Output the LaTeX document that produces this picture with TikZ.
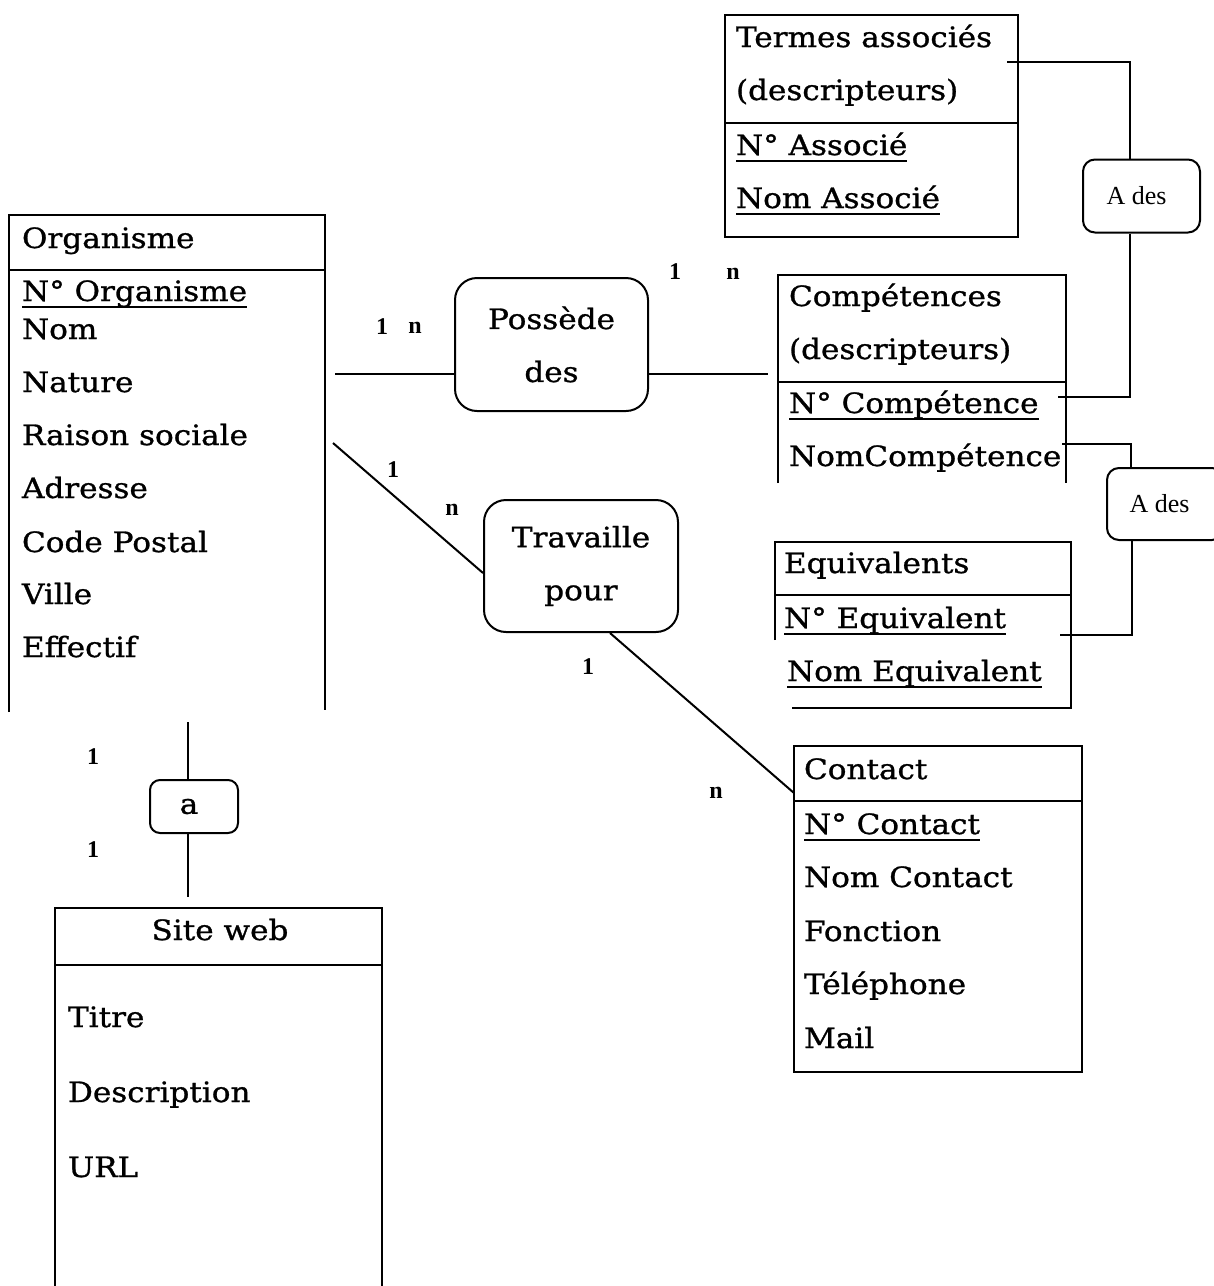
\documentclass[tikz,border=0pt]{standalone}
\usepackage{fontspec}
\setmainfont{DejaVu Serif}[FakeStretch=1.11,FakeBold=1]
\newfontfamily\timesfont{Liberation Serif}
\newcommand\myul[1]{\setbox0=\hbox{#1}\rlap{\raisebox{-7pt}{\rule{\wd0}{1.8pt}}}\box0}
\begin{document}
\begin{tikzpicture}[x=1pt,y=-1pt,line width=2pt,
  txt/.style={anchor=base west,inner sep=0pt,font=\fontsize{28}{28}\selectfont},
  ctxt/.style={anchor=base,inner sep=0pt,font=\fontsize{28}{28}\selectfont},
  card/.style={inner sep=0pt,font=\timesfont\bfseries\fontsize{24}{24}\selectfont},
  frame/.style={inner sep=0pt,outer sep=0pt},
  rel/.style={draw,rounded corners=22pt,inner sep=0pt,align=center,font=\fontsize{28}{53}\selectfont},
  srel/.style={draw,rounded corners=12pt,inner sep=0pt,align=center,font=\timesfont\fontsize{26}{26}\selectfont},
]
\useasboundingbox (0,0) rectangle (1214,1286);
\clip (0,0) rectangle (1214,1286);

% ---------- entity frames ----------
\node[frame,minimum width=316pt,minimum height=497pt] (org) at (167,463.5) {};
\node[frame,minimum width=293pt,minimum height=222pt] (termes) at (871.5,126) {};
\node[frame,minimum width=288pt,minimum height=208pt] (comp) at (922,379) {};
\node[frame,minimum width=296pt,minimum height=166pt] (equiv) at (923,625) {};
\node[frame,minimum width=288pt,minimum height=326pt] (contact) at (938,909) {};
\node[frame,minimum width=327pt,minimum height=378pt] (site) at (218.5,1097) {};

% Organisme
\draw (org.south west) -- (org.north west) -- (org.north east) -- ([yshift=2pt]org.south east);
\draw (9,270) -- (325,270);
\node[txt] (t-org) at (21,248) {Organisme};
\node[txt] (t-org1) at (21,301) {\myul{N° Organisme}};
\node[txt] (t-org2) at (21,339) {Nom};
\node[txt] (t-org3) at (21,392) {Nature};
\node[txt] (t-org4) at (21,445) {Raison sociale};
\node[txt] (t-org5) at (21,498) {Adresse};
\node[txt] (t-org6) at (21,552) {Code Postal};
\node[txt] (t-org7) at (21,604) {Ville};
\node[txt] (t-org8) at (21,657) {Effectif};

% Termes associés
\draw (termes.north west) rectangle (termes.south east);
\draw (725,123) -- (1018,123);
\node[txt] (t-ter) at (735,47) {Termes associés};
\node[txt] (t-ter1) at (735,100) {(descripteurs)};
\node[txt] (t-ter2) at (735,155) {\myul{N° Associé}};
\node[txt] (t-ter3) at (735,208) {\myul{Nom Associé}};

% Compétences
\draw (comp.south west) -- (comp.north west) -- (comp.north east) -- (comp.south east);
\draw (778,382) -- (1066,382);
\node[txt] (t-com) at (788,306) {Compétences};
\node[txt] (t-com1) at (788,359) {(descripteurs)};
\node[txt] (t-com2) at (788,413) {\myul{N° Compétence}};
\node[txt] (t-com3) at (788,466) {NomCompétence};

% Equivalents
\draw (775,640) -- (equiv.north west) -- (equiv.north east) -- (equiv.south east) -- (792,708);
\draw (775,595) -- (1071,595);
\node[txt] (t-eq) at (783,573) {Equivalents};
\node[txt] (t-eq1) at (783,628) {\myul{N° Equivalent}};
\node[txt] (t-eq2) at (786,681) {\myul{Nom Equivalent}};

% Contact
\draw (contact.north west) rectangle (contact.south east);
\draw (794,801) -- (1082,801);
\node[txt] (t-con) at (803,779) {Contact};
\node[txt] (t-con1) at (803,834) {\myul{N° Contact}};
\node[txt] (t-con2) at (803,887) {Nom Contact};
\node[txt] (t-con3) at (803,941) {Fonction};
\node[txt] (t-con4) at (803,994) {Téléphone};
\node[txt] (t-con5) at (803,1048) {Mail};

% Site web
\draw (site.south west) -- (site.north west) -- (site.north east) -- (site.south east);
\draw (55,965) -- (382,965);
\node[ctxt] (t-site) at (220,940) {Site web};
\node[txt] (t-site1) at (67,1027) {Titre};
\node[txt] (t-site2) at (67,1102) {Description};
\node[txt] (t-site3) at (67,1177) {URL};

% ---------- relations ----------
\node[rel,minimum width=193pt,minimum height=133pt] (possede) at (551.5,344.5) {Possède\\des};
\node[rel,minimum width=194pt,minimum height=132pt] (travaille) at (581,566) {Travaille\\pour};
\node[srel,minimum width=117pt,minimum height=73pt] (ades1) at (1141.5,196) {A des\hspace*{10pt}};
\node[srel,minimum width=117pt,minimum height=72pt] (ades2) at (1165.5,504) {A des\hspace*{12pt}};
\node[srel,rounded corners=10pt,minimum width=88pt,minimum height=53pt,font=\fontsize{28}{28}\selectfont] (a) at (194,806.5) {a\hspace*{10pt}};

% ---------- connector ends ----------
\coordinate (orgP) at (335,374);
\coordinate (compP) at (768,374);
\coordinate (orgT) at (333,443);
\coordinate (conT) at (contact.north west |- 0,793);
\coordinate (terA) at (1007,62);
\coordinate (comA) at (1058,397);
\coordinate (comB) at (1062,444);
\coordinate (eqB) at (1060,635);
\coordinate (orgA) at (188,722);
\coordinate (siteA) at (188,897);

% ---------- connectors ----------
\draw (orgP) -- (orgP -| possede.west);
\draw (compP -| possede.east) -- (compP);
\draw (orgT) -- ([yshift=-7pt]travaille.west);
\draw ([xshift=29pt]travaille.south) -- (conT);
\draw (terA) -| ([xshift=-12pt]ades1.north);
\draw ([xshift=-12pt]ades1.south) |- (comA);
\draw (comB) -| ([xshift=-35pt]ades2.north);
\draw ([xshift=-34pt]ades2.south) |- (eqB);
\draw (orgA) -- ([xshift=-6pt]a.north);
\draw ([xshift=-6pt]a.south) -- (siteA);

% ---------- cardinalities ----------
\node[card] (c1) at (382,327) {1};
\node[card] (c2) at (415,328) {n};
\node[card] (c3) at (675,272) {1};
\node[card] (c4) at (733,274) {n};
\node[card] (c5) at (393,470) {1};
\node[card] (c6) at (452,510) {n};
\node[card] (c7) at (588,667) {1};
\node[card] (c8) at (716,793) {n};
\node[card] (c9) at (93,757) {1};
\node[card] (c10) at (93,850) {1};
\end{tikzpicture}
\end{document}
